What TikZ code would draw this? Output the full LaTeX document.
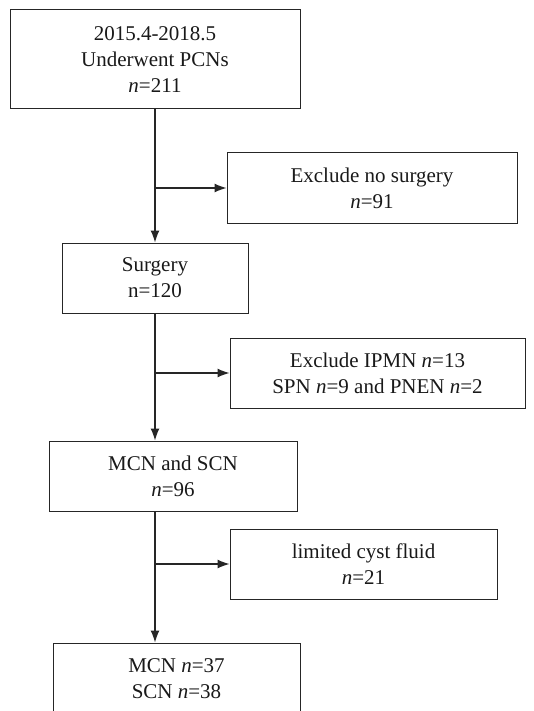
\documentclass[tikz,border=0pt]{standalone}
\usepackage{fontspec}
\setmainfont{Liberation Serif}
\usetikzlibrary{arrows.meta}

\begin{document}
\begin{tikzpicture}[x=1pt,y=-1pt,
  flowbox/.style={draw=black!85,line width=1pt,align=center,minimum height=70pt,
    inner sep=0pt,font=\fontsize{21}{26}\selectfont,text=black!90},
  flowarrow/.style={-{Latex[length=12pt,width=9pt]},line width=1.2pt,draw=black!85}]

  \clip (0,0) rectangle (534,711);

  \node[flowbox,minimum width=290pt,minimum height=99pt] (pcn) at (155,59.5)
    {2015.4-2018.5\\Underwent PCNs\\\textit{n}=211};

  \node[flowbox,minimum width=290pt] (nosurg) at (372,188)
    {Exclude no surgery\\\textit{n}=91};

  \node[flowbox,minimum width=186pt] (surgery) at (155,278)
    {Surgery\\n=120};

  \node[flowbox,minimum width=295pt] (ipmn) at (377.5,373)
    {Exclude IPMN \textit{n}=13\\SPN \textit{n}=9 and PNEN \textit{n}=2};

  \node[flowbox,minimum width=248pt] (mcnscn) at (173,476)
    {MCN and SCN\\\textit{n}=96};

  \node[flowbox,minimum width=267pt] (cyst) at (363.5,564)
    {limited cyst fluid\\\textit{n}=21};

  \node[flowbox,minimum width=247pt,minimum height=71pt] (final) at (176.5,678.5)
    {MCN \textit{n}=37\\SCN \textit{n}=38};

  \draw[flowarrow] (pcn) -- (surgery);
  \draw[flowarrow] (pcn.south |- nosurg.west) -- (nosurg.west);
  \draw[flowarrow] (surgery) -- (surgery.south |- mcnscn.north);
  \draw[flowarrow] (surgery.south |- ipmn.west) -- (ipmn.west);
  \draw[flowarrow] (surgery.south |- mcnscn.south) -- (surgery.south |- final.north);
  \draw[flowarrow] (surgery.south |- cyst.west) -- (cyst.west);

\end{tikzpicture}
\end{document}
